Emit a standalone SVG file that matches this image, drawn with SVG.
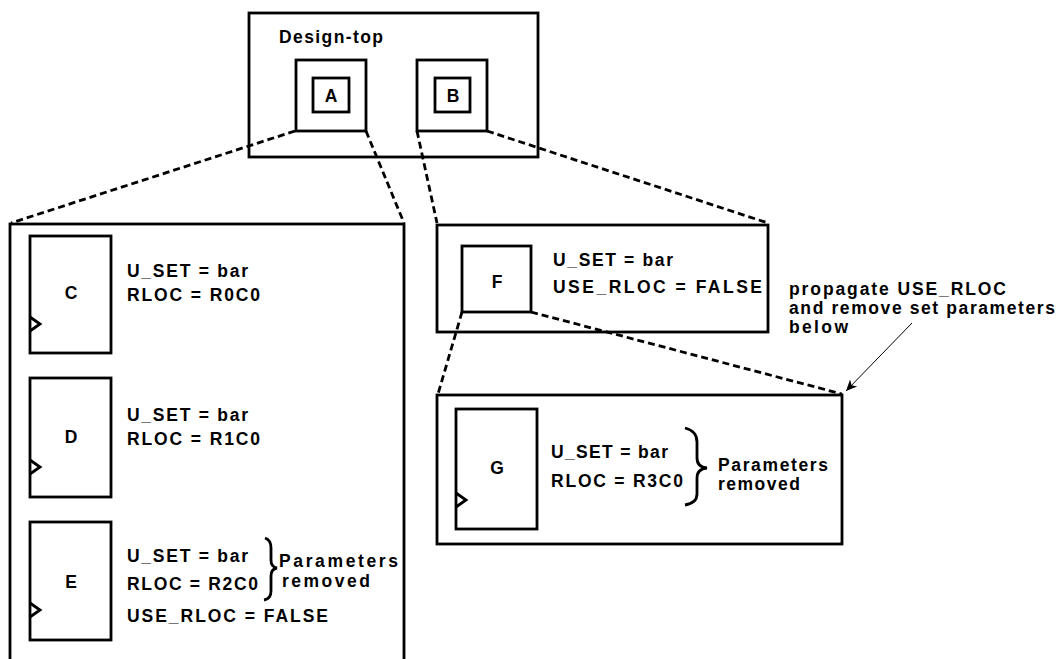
<svg xmlns="http://www.w3.org/2000/svg" width="1062" height="659" viewBox="0 0 1062 659">
<style>
.box{fill:none;stroke:#000;stroke-width:2.8}
.dash{fill:none;stroke:#000;stroke-width:2.8;stroke-dasharray:7 4}
.t{font-family:"Liberation Sans",Arial,sans-serif;font-weight:bold;font-size:17.5px;fill:#000}
.c{text-anchor:middle}
.thin{fill:none;stroke:#000;stroke-width:1}
</style>
<defs>
<marker id="ah" markerWidth="12" markerHeight="12" refX="11" refY="6" orient="auto" markerUnits="userSpaceOnUse">
<path d="M0,1 L11,6 L0,11 L3,6 Z" fill="#000"/>
</marker>
</defs>
<rect width="1062" height="659" fill="#fff"/>

<g id="connectors">
<line class="dash" x1="295" y1="131" x2="11" y2="223"/>
<line class="dash" x1="366" y1="131" x2="404" y2="223"/>
<line class="dash" x1="417" y1="131" x2="437" y2="223"/>
<line class="dash" x1="487" y1="131" x2="768" y2="223"/>
<line class="dash" x1="462" y1="312" x2="438" y2="394"/>
<line class="dash" x1="531" y1="312" x2="842" y2="394"/>
<line class="thin" x1="912" y1="323" x2="846" y2="391" marker-end="url(#ah)"/>
</g>

<g id="design-top">
<rect class="box" x="249" y="13" width="289" height="144"/>
<text class="t" x="279" y="43" textLength="104" lengthAdjust="spacing">Design-top</text>
</g>
<g id="node-A">
<rect class="box" x="296" y="60" width="70" height="71"/>
<rect class="box" x="313" y="78" width="36" height="34"/>
<text class="t c" x="331" y="102">A</text>
</g>
<g id="node-B">
<rect class="box" x="417" y="60" width="70" height="71"/>
<rect class="box" x="435" y="78" width="35" height="34"/>
<text class="t c" x="453" y="102">B</text>
</g>

<g id="container-A">
<rect class="box" x="10" y="224" width="394" height="470"/>
</g>
<g id="node-C">
<rect class="box" x="30" y="236" width="81" height="117"/>
<polyline class="box" points="30,317 40,324 30,331"/>
<text class="t c" x="71" y="299">C</text>
<text class="t" x="127" y="277" textLength="121" lengthAdjust="spacing">U_SET = bar</text>
<text class="t" x="127" y="301" textLength="133" lengthAdjust="spacing">RLOC = R0C0</text>
</g>
<g id="node-D">
<rect class="box" x="30" y="378" width="81" height="119"/>
<polyline class="box" points="30,460 40,467 30,474"/>
<text class="t c" x="71" y="443">D</text>
<text class="t" x="127" y="421" textLength="121" lengthAdjust="spacing">U_SET = bar</text>
<text class="t" x="127" y="445" textLength="133" lengthAdjust="spacing">RLOC = R1C0</text>
</g>
<g id="node-E">
<rect class="box" x="30" y="522" width="81" height="118"/>
<polyline class="box" points="30,603 40,610 30,617"/>
<text class="t c" x="71" y="588">E</text>
<text class="t" x="127" y="562" textLength="121" lengthAdjust="spacing">U_SET = bar</text>
<text class="t" x="127" y="590" textLength="131" lengthAdjust="spacing">RLOC = R2C0</text>
<text class="t" x="127" y="622" textLength="201" lengthAdjust="spacing">USE_RLOC = FALSE</text>
<path class="box" d="M265,538 Q271,540 271,548 L271,560 Q271,567 277,568 Q271,569 271,576 L271,591 Q271,599 264,600"/>
<text class="t" x="279" y="567" textLength="119" lengthAdjust="spacing">Parameters</text>
<text class="t" x="282" y="587" textLength="88" lengthAdjust="spacing">removed</text>
</g>

<g id="container-B">
<rect class="box" x="437" y="225" width="331" height="107"/>
</g>
<g id="node-F">
<rect class="box" x="462" y="246" width="69" height="66"/>
<text class="t c" x="497" y="288">F</text>
<text class="t" x="553" y="266" textLength="120" lengthAdjust="spacing">U_SET = bar</text>
<text class="t" x="553" y="293" textLength="209" lengthAdjust="spacing">USE_RLOC = FALSE</text>
</g>

<g id="container-F">
<rect class="box" x="437" y="395" width="405" height="149"/>
</g>
<g id="node-G">
<rect class="box" x="456" y="409" width="81" height="120"/>
<polyline class="box" points="456,493 466,500 456,507"/>
<text class="t c" x="497" y="474">G</text>
<text class="t" x="551" y="458" textLength="117" lengthAdjust="spacing">U_SET = bar</text>
<text class="t" x="551" y="487" textLength="132" lengthAdjust="spacing">RLOC = R3C0</text>
<path class="box" d="M685,428 Q697,431 697,442 L697,458 Q697,467 707,468 Q697,469 697,478 L697,494 Q697,503 685,505"/>
<text class="t" x="718" y="471" textLength="110" lengthAdjust="spacing">Parameters</text>
<text class="t" x="718" y="490" textLength="82" lengthAdjust="spacing">removed</text>
</g>

<g id="annotation">
<text class="t" x="789" y="295" textLength="217" lengthAdjust="spacing">propagate USE_RLOC</text>
<text class="t" x="789" y="314" textLength="266" lengthAdjust="spacing">and remove set parameters</text>
<text class="t" x="789" y="333" textLength="59" lengthAdjust="spacing">below</text>
</g>
</svg>
